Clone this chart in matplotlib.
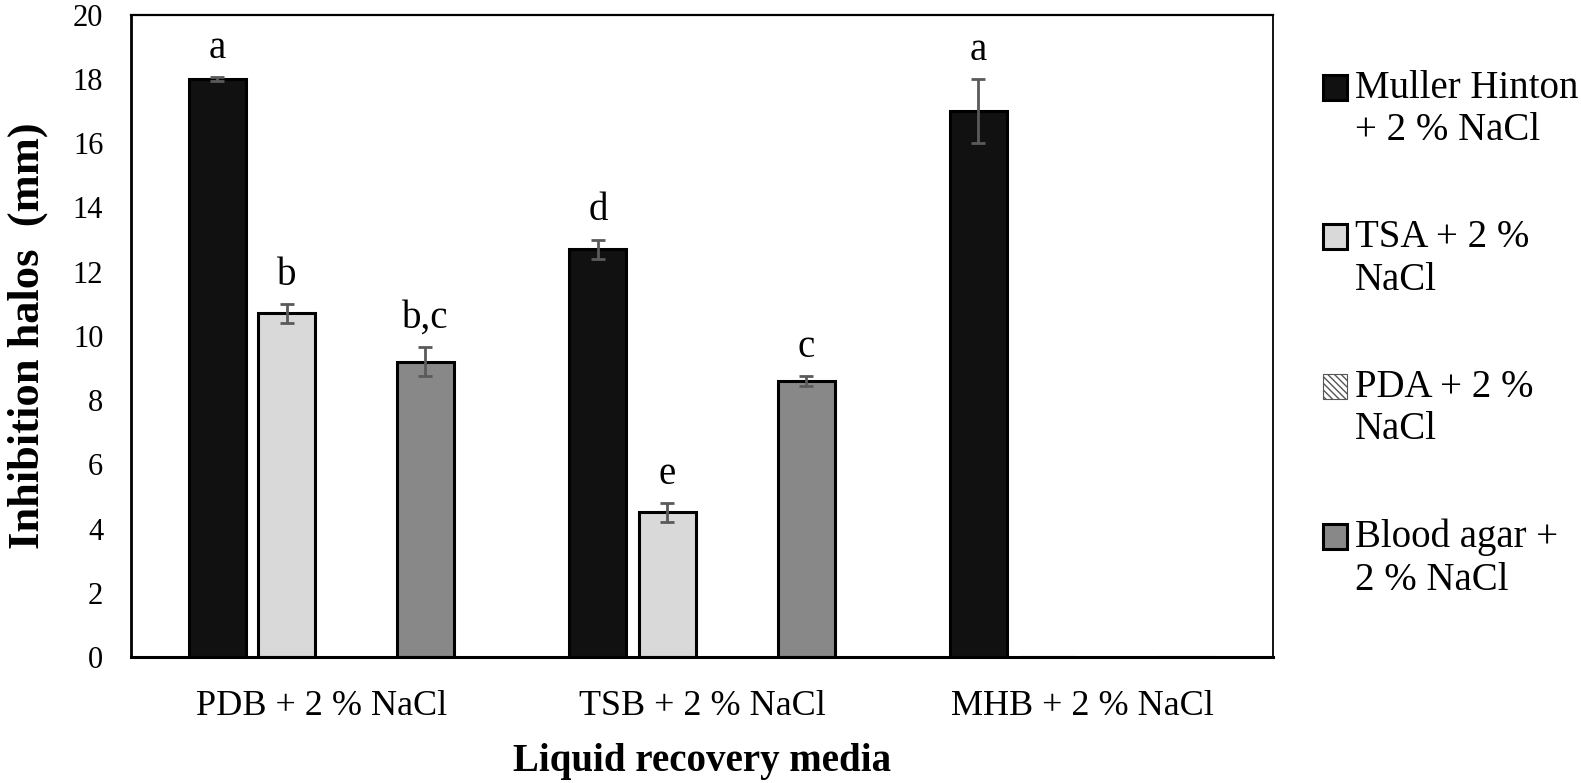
import numpy as np
import matplotlib.pyplot as plt
from matplotlib.patches import Rectangle
from matplotlib.container import BarContainer
from matplotlib.legend_handler import HandlerPatch, update_from_first_child

plt.rcParams['font.family'] = ['Liberation Serif', 'DejaVu Serif']

media = ['PDB + 2 % NaCl', 'TSB + 2 % NaCl', 'MHB + 2 % NaCl']
series = ['Muller Hinton\n+ 2 % NaCl', 'TSA + 2 %\nNaCl', 'PDA + 2 %\nNaCl', 'Blood agar +\n2 % NaCl']

muller = [18.0, 12.7, 17.0]
tsa = [10.7, 4.5, 0.0]
pda = [0.0, 0.0, 0.0]
blood = [9.2, 8.6, 0.0]

muller_err = [0.05, 0.3, 1.0]
tsa_err = [0.3, 0.3, 0.0]
pda_err = [0.0, 0.0, 0.0]
blood_err = [0.45, 0.15, 0.0]

muller_let = ['a', 'd', 'a']
tsa_let = ['b', 'e', '']
pda_let = ['', '', '']
blood_let = ['b,c', 'c', '']

values = [muller, tsa, pda, blood]
errors = [muller_err, tsa_err, pda_err, blood_err]
letters = [muller_let, tsa_let, pda_let, blood_let]
colors = ['#111111', '#d9d9d9', 'white', '#888888']
hatches = [None, None, '\\\\\\\\\\', None]


def upper_patch(legend, orig_handle, xdescent, ydescent, width, height, fontsize):
    # put the square next to the first line of the label
    return Rectangle((-xdescent, -ydescent + fontsize * 0.58), width, height)


fig = plt.figure(figsize=(15.81, 7.83), dpi=100)
ax = fig.add_axes([0.0829, 0.161, 0.7222, 0.820])

x = np.arange(len(media))
step = 0.1824
width = 0.15
handles = []
for i in range(4):
    pos = x + (i - 1.5) * step
    bars = ax.bar(pos, values[i], width, color=colors[i], edgecolor='black' if i != 2 else '#555555',
                  linewidth=2.2 if i != 2 else 0.8, hatch=hatches[i], label=series[i], zorder=2)
    handles.append(bars)
    for p, v, e, t in zip(pos, values[i], errors[i], letters[i]):
        if v > 0:
            ax.errorbar(p, v, yerr=e, fmt='none', ecolor='#5a5a5a', elinewidth=2,
                        capsize=5, capthick=2, zorder=3)
        if t:
            ax.text(p, v + e + 0.6, t, ha='center', va='baseline', fontsize=28)

ax.set_xlim(-0.5, 2.5)
ax.set_ylim(0, 20)
ax.set_yticks(np.arange(0, 21, 2))
ax.set_xticks(x)
ax.set_xticklabels(media)
ax.tick_params(axis='both', length=0)
ax.tick_params(axis='y', pad=20, labelsize=22)
ax.tick_params(axis='x', pad=24, labelsize=26)
ax.spines['right'].set_linewidth(1.3)
ax.spines['top'].set_linewidth(1.6)
ax.spines['left'].set_linewidth(2)
ax.spines['bottom'].set_linewidth(2.2)

ax.set_ylabel('Inhibition halos  (mm)', fontsize=32, fontweight='bold', labelpad=18)
ax.set_xlabel('Liquid recovery media', fontsize=28, fontweight='bold', labelpad=14)

leg = ax.legend(handles=handles, loc='upper left', bbox_to_anchor=(0.8366, 0.911),
                bbox_transform=fig.transFigure, frameon=False,
                fontsize=28, handlelength=0.62, handleheight=0.62, handletextpad=0.2,
                labelspacing=1.8, borderaxespad=0, borderpad=0,
                handler_map={BarContainer: HandlerPatch(patch_func=upper_patch,
                                                        update_func=update_from_first_child)})

fig.savefig('out.png', dpi=100)
